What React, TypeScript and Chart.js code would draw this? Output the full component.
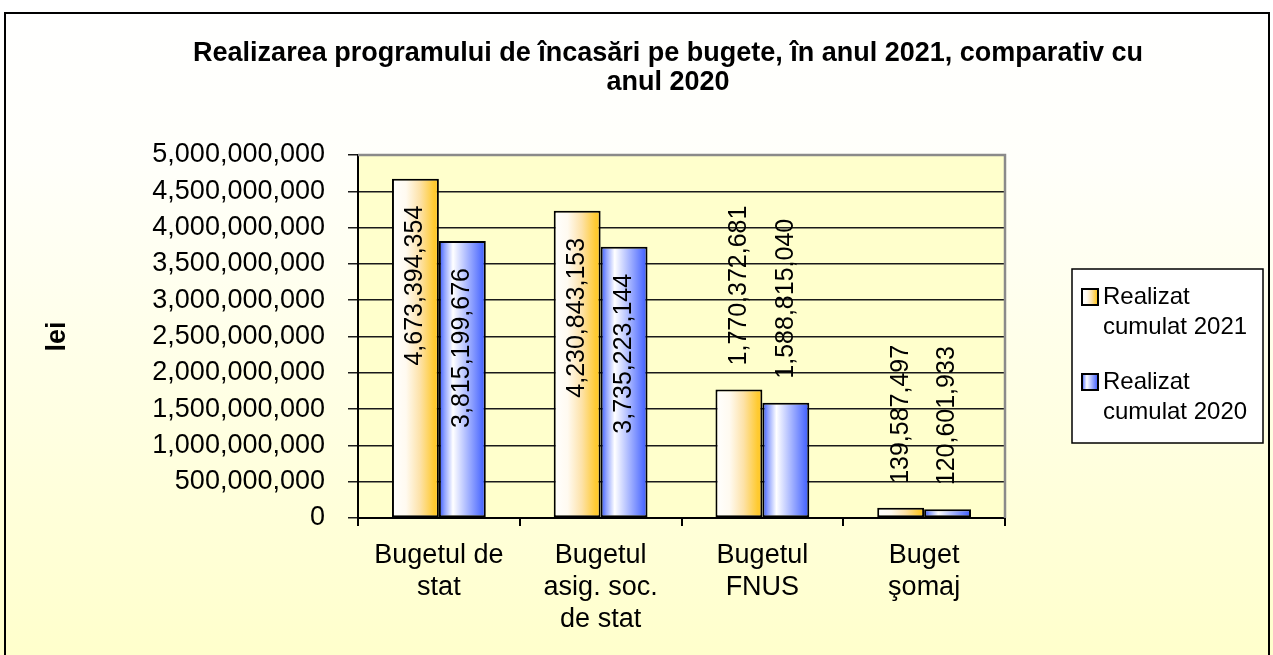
import React, { useEffect, useRef } from 'react';
import { Chart, registerables } from 'chart.js';

Chart.register(...registerables);

// ---------------- data ----------------
const categories: string[][] = [
  ['Bugetul de', 'stat'],
  ['Bugetul', 'asig. soc.', 'de stat'],
  ['Bugetul', 'FNUS'],
  ['Buget', 'şomaj'],
];
const seriesLabels: string[][] = [
  ['Realizat', 'cumulat 2021'],
  ['Realizat', 'cumulat 2020'],
];
const realizat2021 = [4673394354, 4230843153, 1770372681, 139587497];
const realizat2020 = [3815199676, 3735223144, 1588815040, 120601933];
const yMin = 0;
const yMax = 5000000000;
const yStep = 500000000;
const titleLines = [
  'Realizarea programului de încasări pe bugete, în anul 2021, comparativ cu',
  'anul 2020',
];
const yAxisTitle = 'lei';

// ---------------- style ----------------
const FONT = '"Liberation Sans", Arial, Helvetica, sans-serif';
const W = 1273;
const H = 655;
const PLOT_LEFT = 358;
const PLOT_RIGHT = 1005;
const PLOT_TOP = 155;
const PLOT_BOTTOM = 518;
const PAD_LEFT = 41;
const CAT_PCT = 0.58;

const fmt = (v: number) => v.toLocaleString('en-US');

function makeGradient(c: CanvasRenderingContext2D, x0: number, x1: number, kind: number) {
  const g = c.createLinearGradient(x0, 0, x1, 0);
  if (kind === 0) {
    g.addColorStop(0, '#ffffff');
    g.addColorStop(0.3, '#fffaf0');
    g.addColorStop(0.6, '#fde2a8');
    g.addColorStop(0.9, '#ffca30');
    g.addColorStop(1, '#ffc82a');
  } else {
    g.addColorStop(0, '#3355ff');
    g.addColorStop(0.12, '#8fa2ff');
    g.addColorStop(0.3, '#ffffff');
    g.addColorStop(0.6, '#aab8ff');
    g.addColorStop(1, '#3a5aff');
  }
  return g;
}

function barFill(kind: number) {
  return (ctx: any) => {
    const chart = ctx.chart;
    const area = chart.chartArea;
    if (!area || ctx.dataIndex === undefined || !chart.scales.x) {
      return kind === 0 ? '#ffcc33' : '#5070ff';
    }
    const xs = chart.scales.x;
    const center = xs.getPixelForValue(ctx.dataIndex);
    const catW = (area.right - area.left) / categories.length;
    const bw = (catW * CAT_PCT) / 2;
    const x0 = kind === 0 ? center - bw : center;
    return makeGradient(chart.ctx, x0, x0 + bw, kind);
  };
}

const backgroundPlugin = {
  id: 'bgPlugin',
  beforeDraw(chart: any) {
    const c: CanvasRenderingContext2D = chart.ctx;
    const area = chart.chartArea;
    c.save();
    const g = c.createLinearGradient(0, 0, 0, H);
    g.addColorStop(0, '#ffffff');
    g.addColorStop(0.25, '#fffffa');
    g.addColorStop(1, '#ffffcc');
    c.fillStyle = g;
    c.fillRect(0, 0, W, H);
    c.fillStyle = '#ffffcc';
    c.fillRect(area.left, area.top, area.right - area.left, area.bottom - area.top);
    c.strokeStyle = '#000';
    c.lineWidth = 2;
    c.strokeRect(5, 13, 1264, 700);
    c.restore();
  },
  afterDatasetsDraw(chart: any) {
    const c: CanvasRenderingContext2D = chart.ctx;
    const area = chart.chartArea;
    c.save();
    // plot border top/right (grey)
    c.strokeStyle = '#8a8a8a';
    c.lineWidth = 2.5;
    c.beginPath();
    c.moveTo(area.left, area.top);
    c.lineTo(area.right, area.top);
    c.lineTo(area.right, area.bottom);
    c.stroke();
    // data labels
    c.font = `25px ${FONT}`;
    c.fillStyle = '#000';
    c.textAlign = 'center';
    c.textBaseline = 'middle';
    chart.data.datasets.forEach((ds: any, di: number) => {
      const meta = chart.getDatasetMeta(di);
      meta.data.forEach((el: any, i: number) => {
        const txt = fmt(ds.data[i]);
        const w = c.measureText(txt).width;
        const h = el.base - el.y;
        let cy: number;
        if (h >= w + 52) cy = el.y + 27 + w / 2;
        else cy = el.y - 24 - w / 2;
        c.save();
        c.translate(el.x, cy);
        c.rotate(-Math.PI / 2);
        c.fillText(txt, 0, 0);
        c.restore();
      });
    });
    c.restore();
  },
  afterDraw(chart: any) {
    const c: CanvasRenderingContext2D = chart.ctx;
    c.save();
    // title
    c.fillStyle = '#000';
    c.font = `bold 27px ${FONT}`;
    c.textAlign = 'center';
    c.textBaseline = 'middle';
    c.fillText(titleLines[0], 668, 54);
    c.fillText(titleLines[1], 668, 83);
    // legend
    const lx = 1072, ly = 269, lw = 191, lh = 174;
    c.fillStyle = '#ffffff';
    c.fillRect(lx, ly, lw, lh);
    c.strokeStyle = '#000';
    c.lineWidth = 1.5;
    c.strokeRect(lx, ly, lw, lh);
    c.font = `24px ${FONT}`;
    c.textAlign = 'left';
    const rowsY = [297, 382];
    seriesLabels.forEach((lines, k) => {
      const y = rowsY[k];
      const mx = 1082, my = y - 8, ms = 16;
      c.fillStyle = makeGradient(c, mx, mx + ms, k);
      c.fillRect(mx, my, ms, ms);
      c.strokeStyle = '#000';
      c.lineWidth = 2;
      c.strokeRect(mx, my, ms, ms);
      c.fillStyle = '#000';
      lines.forEach((t, j) => c.fillText(t, 1103, y + j * 30));
    });
    c.restore();
  },
};

export default function App() {
  const ref = useRef<HTMLCanvasElement | null>(null);
  useEffect(() => {
    if (!ref.current) return;
    const chart = new Chart(ref.current, {
      type: 'bar',
      data: {
        labels: categories as any,
        datasets: [
          {
            label: seriesLabels[0].join(' '),
            data: realizat2021,
            backgroundColor: barFill(0) as any,
            borderColor: '#000',
            borderWidth: 2,
            borderSkipped: false,
            barPercentage: 1,
            categoryPercentage: CAT_PCT,
          },
          {
            label: seriesLabels[1].join(' '),
            data: realizat2020,
            backgroundColor: barFill(1) as any,
            borderColor: '#000',
            borderWidth: 2,
            borderSkipped: false,
            barPercentage: 1,
            categoryPercentage: CAT_PCT,
          },
        ],
      },
      options: {
        responsive: false,
        animation: false,
        devicePixelRatio: 1,
        layout: {
          padding: { left: PAD_LEFT, right: W - PLOT_RIGHT, top: PLOT_TOP, bottom: 0 },
        },
        plugins: {
          legend: { display: false },
          title: { display: false },
          tooltip: { enabled: false },
        },
        scales: {
          x: {
            grid: {
              drawOnChartArea: false,
              drawTicks: true,
              tickLength: 8,
              color: '#000',
              lineWidth: 2,
            },
            border: { display: true, color: '#000', width: 2 },
            ticks: {
              color: '#000',
              font: { family: FONT, size: 27, lineHeight: 1.2 },
              padding: 13,
              maxRotation: 0,
              autoSkip: false,
            },
            afterFit: (s: any) => {
              s.height = H - PLOT_BOTTOM;
            },
          },
          y: {
            min: yMin,
            max: yMax,
            grid: {
              color: '#1a1a1a',
              lineWidth: 1.5,
              tickLength: 10,
              drawTicks: true,
            },
            border: { display: true, color: '#000', width: 2 },
            ticks: {
              stepSize: yStep,
              color: '#000',
              font: { family: FONT, size: 27 },
              padding: 23,
              callback: (v: any) => fmt(Number(v)),
            },
            title: {
              display: true,
              text: yAxisTitle,
              color: '#000',
              font: { family: FONT, size: 27, weight: 'bold' },
              padding: { top: 0, bottom: 0 },
            },
            afterFit: (s: any) => {
              s.width = PLOT_LEFT - PAD_LEFT;
            },
          },
        },
      },
      plugins: [backgroundPlugin],
    });
    return () => chart.destroy();
  }, []);
  return (
    <div style={{ position: 'absolute', left: 0, top: 0, width: W, height: H }}>
      <canvas ref={ref} width={W} height={H} style={{ display: 'block' }} />
    </div>
  );
}
